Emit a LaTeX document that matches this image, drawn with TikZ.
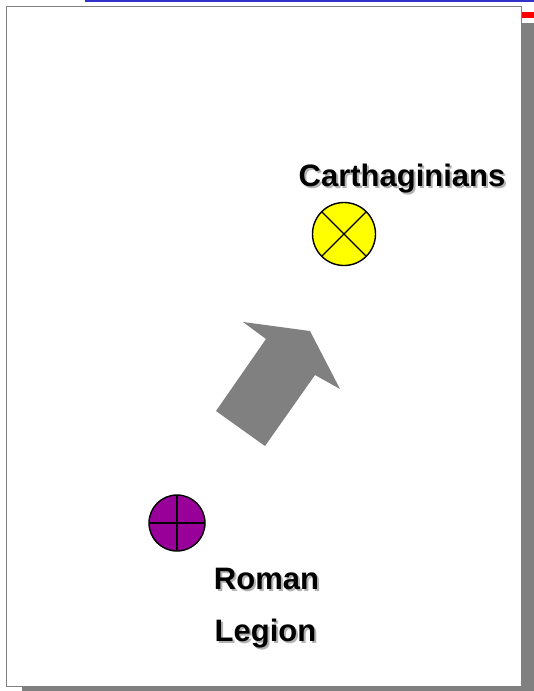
\documentclass[tikz,border=0pt]{standalone}
\usepackage{fontspec}
\setmainfont{Liberation Sans}
\definecolor{shadowgray}{RGB}{128,128,128}
\definecolor{topblue}{RGB}{51,51,204}
\definecolor{legionpurple}{RGB}{153,0,153}
\definecolor{carthyellow}{RGB}{255,255,0}
\begin{document}
\begin{tikzpicture}[x=1pt,y=-1pt,
  lbl/.style={font=\bfseries\fontsize{31}{37}\selectfont, anchor=base, inner sep=0, text=black},
  lblshadow/.style={lbl, text=black!30},
  unit/.style={circle, draw=black, line width=1.4pt, inner sep=0, outer sep=0}]
\useasboundingbox (0,0) rectangle (534,691);
\clip (0,0) rectangle (534,691);
% page shadow and frame
\fill[shadowgray] (22,23) rectangle (560,720);
\draw[shadowgray, fill=white, line width=1.6pt] (6.5,6.5) rectangle (521.5,686.5);
\fill[topblue] (85,0) rectangle (534,2);
\fill[red] (522,12) rectangle (534,17.5);
% arrow
\fill[shadowgray] (216,411) -- (266,339) -- (243,322) -- (310,331) -- (340,389) -- (315,375) -- (265,446) -- cycle;
% units
\node[unit, fill=carthyellow, minimum size=63pt] (carth) at (344,234) {};
\draw[line width=1.4pt] (carth.135) -- (carth.-45);
\draw[line width=1.4pt] (carth.45) -- (carth.-135);
\node[unit, fill=legionpurple, minimum size=56pt] (legion) at (177,523) {};
\draw[line width=1.4pt] (legion.north) -- (legion.south);
\draw[line width=1.4pt] (legion.west) -- (legion.east);
% labels
\node[lblshadow] (carthS) at (404,188.5) {Carthaginians};
\node[lbl] (carthL) at (402,186) {Carthaginians};
\node[lblshadow] (romanS) at (268.5,591.5) {Roman};
\node[lbl] (romanL) at (266.5,589) {Roman};
\node[lblshadow] (legionS) at (267.5,643.5) {Legion};
\node[lbl] (legionL) at (265.5,641) {Legion};
\end{tikzpicture}
\end{document}
